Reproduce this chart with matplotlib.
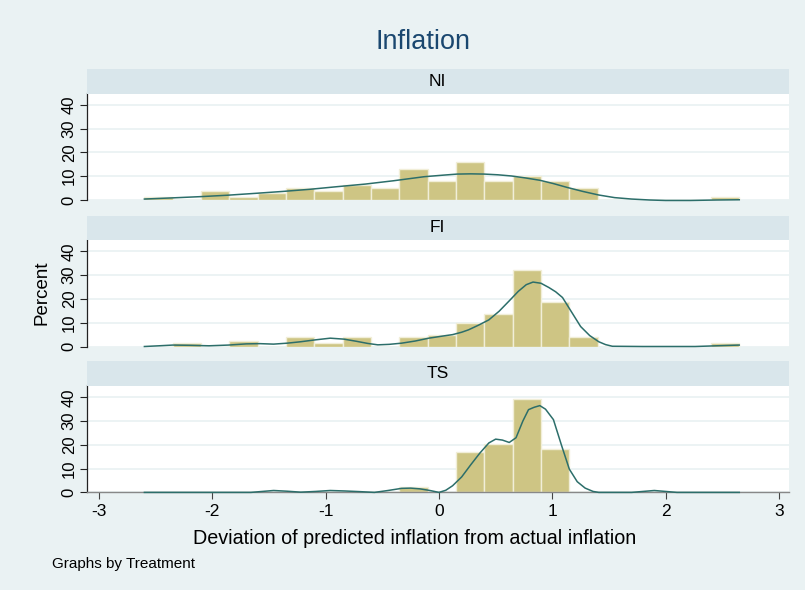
import matplotlib
matplotlib.use("Agg")
import matplotlib.pyplot as plt
import numpy as np

# ---------------- data ----------------
panels = ["NI", "FI", "TS"]
bin_start = -2.6
bin_width = 0.25
n_bins = 21

# histogram heights (percent) per bin
ni_pct = [1.4, 0, 3.9, 1.4, 2.8, 5.2, 3.9, 6.3, 5.2, 13.1, 8.0, 15.8, 8.0, 10.3, 8.0, 5.2, 0, 0, 0, 0, 1.4]
fi_pct = [0, 1.3, 0, 2.4, 0, 3.8, 1.3, 3.8, 0, 3.8, 4.9, 9.8, 13.7, 32.3, 18.7, 3.8, 0, 0, 0, 0, 1.3]
ts_pct = [0, 0, 0, 0, 0, 0, 0, 0, 0, 2.2, 0, 17.2, 20.3, 39.2, 18.3, 0, 0, 0, 0, 0, 0]

# kernel density curves (scaled to percent)
ni_kx = [-2.6, -2.35, -2.11, -1.87, -1.62, -1.38, -1.14, -0.9, -0.65, -0.4, -0.13, 0.05, 0.16, 0.28, 0.4, 0.52, 0.64, 0.76, 0.89, 1.01, 1.13, 1.27, 1.41, 1.55, 1.7, 1.86, 2.0, 2.22, 2.45, 2.65]
ni_ky = [0.4, 0.9, 1.4, 2.0, 2.8, 3.6, 4.5, 5.6, 6.7, 8.1, 9.8, 10.5, 10.9, 11.0, 10.9, 10.6, 10.1, 9.3, 8.3, 6.9, 5.3, 3.6, 2.1, 1.0, 0.4, 0.0, -0.2, -0.2, 0.0, 0.1]

fi_kx = [-2.6, -2.47, -2.35, -2.2, -2.03, -1.86, -1.7, -1.58, -1.46, -1.34, -1.22, -1.09, -0.96, -0.84, -0.73, -0.63, -0.54, -0.44, -0.33, -0.21, -0.09, 0.02, 0.12, 0.2, 0.26, 0.35, 0.44, 0.53, 0.62, 0.7, 0.77, 0.83, 0.9, 0.97, 1.03, 1.09, 1.17, 1.25, 1.33, 1.41, 1.47, 1.53, 1.8, 2.1, 2.26, 2.45, 2.65]
fi_ky = [0.0, 0.3, 0.6, 0.5, 0.3, 0.6, 1.1, 1.2, 1.0, 1.4, 2.0, 2.8, 3.5, 3.1, 2.2, 1.3, 0.7, 0.9, 1.4, 2.3, 3.5, 4.3, 5.0, 6.0, 7.0, 9.0, 11.2, 14.8, 19.2, 23.2, 26.0, 27.1, 26.6, 24.8, 23.0, 20.6, 14.5, 8.4, 4.6, 2.0, 0.8, 0.1, 0.0, 0.0, 0.0, 0.3, 0.6]

ts_kx = [-2.6, -2.2, -1.9, -1.66, -1.56, -1.46, -1.34, -1.22, -1.09, -0.96, -0.83, -0.69, -0.57, -0.45, -0.33, -0.25, -0.17, -0.08, 0.0, 0.06, 0.12, 0.2, 0.28, 0.36, 0.44, 0.5, 0.56, 0.62, 0.68, 0.74, 0.79, 0.84, 0.89, 0.94, 1.01, 1.08, 1.15, 1.22, 1.29, 1.36, 1.41, 1.55, 1.7, 1.8, 1.9, 2.0, 2.1, 2.35, 2.65]
ts_ky = [0.0, 0.0, 0.0, 0.0, 0.4, 0.8, 0.5, 0.1, 0.4, 0.8, 0.6, 0.3, 0.0, 0.8, 1.7, 1.8, 1.5, 0.8, 0.0, 0.9, 2.8, 6.5, 11.6, 16.5, 20.8, 22.4, 22.0, 21.0, 23.0, 30.0, 34.8, 35.8, 36.5, 35.0, 30.6, 20.0, 9.8, 4.5, 1.8, 0.4, 0.0, 0.0, 0.0, 0.4, 0.8, 0.4, 0.0, 0.0, 0.0]

pcts = [ni_pct, fi_pct, ts_pct]
curves = [(ni_kx, ni_ky), (fi_kx, fi_ky), (ts_kx, ts_ky)]

x_ticks = [-3, -2, -1, 0, 1, 2, 3]
y_ticks = [0, 10, 20, 30, 40]

title = "Inflation"
xlabel = "Deviation of predicted inflation from actual inflation"
ylabel = "Percent"
note = "Graphs by Treatment"

# ---------------- style ----------------
BG = "#EAF2F3"
STRIP = "#D9E6EB"
BAR = "#CEC584"
BAR_EDGE = "#F1EED8"
LINE = "#2C6E6A"
TITLE_C = "#1A476F"
FONT = "Liberation Sans"

W, H = 805, 590
fig = plt.figure(figsize=(W / 100, H / 100), dpi=100, facecolor=BG)

left_px, right_px = 86.5, 789
plot_tops = [93, 239.5, 385.4]
plot_h = 107
strip_h = 24.5

edges = bin_start + bin_width * np.arange(n_bins + 1)

for i, name in enumerate(panels):
    top = plot_tops[i]
    ax = fig.add_axes([left_px / W, (H - top - plot_h) / H,
                       (right_px - left_px) / W, plot_h / H])
    ax.set_facecolor("white")
    ax.bar(edges[:-1], pcts[i], width=bin_width, align="edge",
           color=BAR, edgecolor=BAR_EDGE, linewidth=1.0, zorder=2)
    ax.plot(curves[i][0], curves[i][1], color=LINE, lw=1.1, zorder=3,
            solid_joinstyle="round", clip_on=False)
    ax.set_xlim(-3.111, 3.089)
    ax.set_ylim(0, 45)
    ax.set_yticks(y_ticks)
    ax.set_yticklabels([str(t) for t in y_ticks], rotation=90, va="center",
                       fontsize=12, family=FONT)
    for t in y_ticks:
        ax.axhline(t, color=BG, lw=1.3, zorder=1)
    for s in ["top", "right"]:
        ax.spines[s].set_visible(False)
    ax.spines["left"].set_color("#222222")
    ax.spines["left"].set_linewidth(0.9)
    ax.tick_params(axis="y", length=5, width=0.8, color="#222222", pad=2)
    if i < 2:
        ax.spines["bottom"].set_visible(False)
        ax.set_xticks([])
    else:
        ax.spines["bottom"].set_color("#888888")
        ax.spines["bottom"].set_linewidth(1.0)
        ax.set_xticks(x_ticks)
        ax.set_xticklabels([str(t) for t in x_ticks], fontsize=12.5, family=FONT)
        ax.tick_params(axis="x", length=5, width=0.8, color="#444444", pad=3)
    if i == 1:
        ax.set_ylabel(ylabel, fontsize=13.5, family=FONT, labelpad=8)

    # strip
    sax = fig.add_axes([left_px / W, (H - top - 0.5) / H,
                        (right_px - left_px) / W, strip_h / H])
    sax.set_facecolor(STRIP)
    sax.set_xticks([]); sax.set_yticks([])
    for s in sax.spines.values():
        s.set_visible(False)
    sax.text(0.5, 0.5, name, ha="center", va="center", fontsize=12.5,
             family=FONT, transform=sax.transAxes)

fig.text(423 / W, 1 - 42 / H, title, ha="center",
         va="center", fontsize=19.5, color=TITLE_C, family=FONT)
fig.text(415 / W, 1 - 539 / H, xlabel, ha="center", va="center",
         fontsize=14.2, family=FONT)
fig.text(52 / W, 1 - 564 / H, note, ha="left", va="center", fontsize=11,
         family=FONT)

fig.savefig("out.png", dpi=100, facecolor=BG)
